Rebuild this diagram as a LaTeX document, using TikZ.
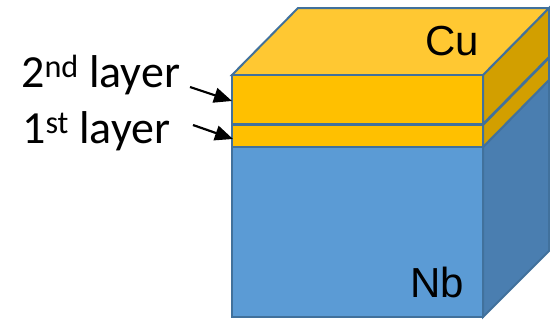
\documentclass[tikz,border=0pt]{standalone}
\usepackage{fontspec}
\setmainfont{Carlito}
\newfontfamily\symbolfont{Liberation Sans}
\usetikzlibrary{arrows.meta}
\definecolor{edgeblue}{HTML}{41719C}
\definecolor{cutop}{HTML}{FFC832}
\definecolor{cufront}{HTML}{FFC000}
\definecolor{cuside}{HTML}{D29F00}
\definecolor{nbfront}{HTML}{5B9BD5}
\definecolor{nbside}{HTML}{4A7EB0}
\tikzset{
  face/.style={draw=edgeblue, line width=2pt, line join=miter},
  label/.style={font=\fontsize{46}{52}\selectfont, inner sep=0pt, anchor=base west},
  element/.style={font=\symbolfont\fontsize{42}{48}\selectfont, inner sep=0pt, anchor=base west},
  pointer/.style={line width=2.2pt, -{Triangle[length=18pt,width=15pt]}},
}
\begin{document}
\begin{tikzpicture}[x=1pt,y=-1pt]
\useasboundingbox (0,0) rectangle (550,324);
% Nb block
\filldraw[face, fill=nbside] (483,147) -- (549,80) -- (549,251) -- (483,317) -- cycle;
\filldraw[face, fill=nbfront] (232,147) rectangle (483,317);
% first Cu layer
\filldraw[face, fill=cuside] (483,125) -- (549,58) -- (549,80) -- (483,147) -- cycle;
\filldraw[face, fill=cufront] (232,125) rectangle (483,147);
% second Cu layer
\filldraw[face, fill=cuside] (483,75) -- (549,8) -- (549,57) -- (483,124) -- cycle;
\filldraw[face, fill=cutop] (232,75) -- (298,8) -- (549,8) -- (483,75) -- cycle;
\filldraw[face, fill=cufront] (232,75) rectangle (483,124);
% material names
\node[element] (cu) at (425,55) {Cu};
\node[element] (nb) at (410,297) {Nb};
% layer labels and pointers
\node[label] (second) at (21,87) {2\textsuperscript{nd} layer};
\node[label] (first) at (22,143) {1\textsuperscript{st} layer};
\coordinate (secondtail) at (190,87);
\coordinate (secondtip) at (232,101);
\coordinate (firsttail) at (193,125);
\coordinate (firsttip) at (233,139);
\draw[pointer] (secondtail) -- (secondtip);
\draw[pointer] (firsttail) -- (firsttip);
\end{tikzpicture}
\end{document}
